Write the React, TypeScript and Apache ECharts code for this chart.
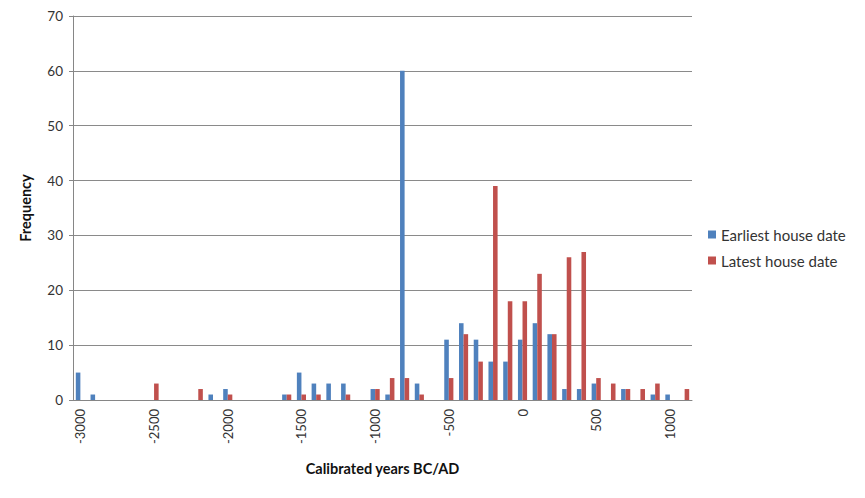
import React, { useEffect, useRef } from "react";
import * as echarts from "echarts";

const categories: string[] = [];
for (let y = -3000; y <= 1100; y += 100) categories.push(String(y));

// values per category (-3000 .. 1100, step 100)
const earliest = [
  5, 1, 0, 0, 0, 0, 0, 0, 0, 1, 2, 0, 0, 0, 1, 5, 3, 3, 3, 0, 2,
  1, 60, 3, 0, 11, 14, 11, 7, 7, 11, 14, 12, 2, 2, 3, 0, 2, 0, 1, 1, 0,
];
const latest = [
  0, 0, 0, 0, 0, 3, 0, 0, 2, 0, 1, 0, 0, 0, 1, 1, 1, 0, 1, 0, 2,
  4, 4, 1, 0, 4, 12, 7, 39, 18, 18, 23, 12, 26, 27, 4, 3, 2, 2, 3, 0, 2,
];

const FONT = "Lato, 'Open Sans', sans-serif";

export default function App() {
  const ref = useRef<HTMLDivElement>(null);
  useEffect(() => {
    if (!ref.current) return;
    const chart = echarts.init(ref.current, undefined, { renderer: "svg" });
    chart.setOption({
      animation: false,
      textStyle: { fontFamily: FONT },
      grid: { left: 73, right: 173, top: 16, bottom: 98, containLabel: false },
      legend: {
        orient: "vertical",
        left: 703,
        top: 222,
        itemWidth: 8,
        itemHeight: 8,
        itemGap: 11,
        icon: "rect",
        textStyle: { fontSize: 15, color: "#333", fontFamily: FONT },
        data: ["Earliest house date", "Latest house date"],
      },
      xAxis: {
        type: "category",
        data: categories,
        name: "Calibrated years BC/AD",
        nameLocation: "middle",
        nameGap: 61,
        nameTextStyle: { fontSize: 14.5, fontWeight: "bold", color: "#111", fontFamily: FONT },
        axisLine: { lineStyle: { color: "#868686" } },
        axisTick: { show: false },
        axisLabel: {
          rotate: 90,
          interval: 4,
          fontSize: 13,
          color: "#333",
          margin: 9,
          fontFamily: FONT,
        },
      },
      yAxis: {
        type: "value",
        min: 0,
        max: 70,
        interval: 10,
        name: "Frequency",
        nameLocation: "middle",
        nameGap: 40,
        nameTextStyle: { fontSize: 14.5, fontWeight: "bold", color: "#111", fontFamily: FONT },
        axisLine: { show: true, lineStyle: { color: "#868686" } },
        axisTick: { show: true, length: 4, lineStyle: { color: "#868686" } },
        axisLabel: { fontSize: 13.5, color: "#333", margin: 10, fontFamily: FONT },
        splitLine: { lineStyle: { color: "#8a8a8a" } },
      },
      series: [
        {
          name: "Earliest house date",
          type: "bar",
          data: earliest,
          itemStyle: { color: "#4F81BD" },
          barGap: "0%",
          barCategoryGap: "38%",
        },
        {
          name: "Latest house date",
          type: "bar",
          data: latest,
          itemStyle: { color: "#C0504D" },
          barGap: "0%",
          barCategoryGap: "38%",
        },
      ],
    });
    return () => chart.dispose();
  }, []);
  return (
    <div
      ref={ref}
      style={{ position: "absolute", left: 0, top: 0, width: 865, height: 498 }}
    />
  );
}
